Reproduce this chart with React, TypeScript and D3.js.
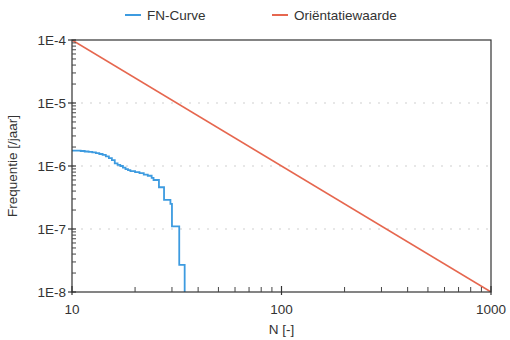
import { useEffect, useRef } from 'react'
import * as d3 from 'd3'

// FN-curve (step function, value holds until next N)
const fnN = [
  10, 11, 11.5, 12, 12.5, 13, 13.5, 14, 14.5, 15, 15.5, 16, 16.5, 17, 17.5, 18, 18.5, 19, 20, 21,
  22, 23, 24, 24.5, 26, 27.5, 29.5, 30, 32.5, 34.5,
]
const fnFreq = [
  1.75e-6, 1.73e-6, 1.7e-6, 1.67e-6, 1.64e-6, 1.6e-6, 1.55e-6, 1.5e-6, 1.42e-6, 1.33e-6, 1.24e-6,
  1.1e-6, 1.04e-6, 1.0e-6, 9.4e-7, 8.9e-7, 8.6e-7, 8.3e-7, 8.0e-7, 7.7e-7, 7.3e-7, 7.0e-7, 6.5e-7,
  6.0e-7, 4.6e-7, 2.9e-7, 2.5e-7, 1.1e-7, 2.7e-8, 1e-8,
]

// Oriëntatiewaarde line
const refN = [10, 1000]
const refFreq = [1e-4, 1e-8]

const yTicks = [1e-4, 1e-5, 1e-6, 1e-7, 1e-8]
const yTickLabels = ['1E-4', '1E-5', '1E-6', '1E-7', '1E-8']
const xTicks = [10, 100, 1000]
const seriesNames = ['FN-Curve', 'Oriëntatiewaarde']

export default function App() {
  const svgRef = useRef<SVGSVGElement>(null)

  useEffect(() => {
    if (!svgRef.current) return
    const svg = d3.select(svgRef.current)
    svg.selectAll('*').remove()

    const width = 510
    const height = 340
    const margin = { top: 40, right: 19, bottom: 48, left: 72 }
    const innerWidth = width - margin.left - margin.right
    const innerHeight = height - margin.top - margin.bottom
    const font = '"Liberation Sans", Arial, sans-serif'
    const textColor = '#333'
    const blue = '#3d9be0'
    const red = '#e6674f'

    svg.attr('width', width).attr('height', height)
    svg.append('rect').attr('width', width).attr('height', height).attr('fill', '#fff')

    const g = svg.append('g').attr('transform', `translate(${margin.left},${margin.top})`)

    const x = d3.scaleLog().domain([10, 1000]).range([0, innerWidth])
    const y = d3.scaleLog().domain([1e-8, 1e-4]).range([innerHeight, 0])

    // faint dotted grid
    yTicks.slice(1, -1).forEach(t => {
      g.append('line')
        .attr('x1', 0).attr('x2', innerWidth)
        .attr('y1', y(t)).attr('y2', y(t))
        .attr('stroke', '#cfcfcf')
        .attr('stroke-width', 1)
        .attr('stroke-dasharray', '2,7')
    })

    g.append('defs').append('clipPath').attr('id', 'plot')
      .append('rect').attr('width', innerWidth).attr('height', innerHeight)

    const line = d3.line<[number, number]>()
      .x(d => x(d[0]))
      .y(d => y(d[1]))

    g.append('path')
      .datum(refN.map((n, i) => [n, refFreq[i]] as [number, number]))
      .attr('d', line)
      .attr('fill', 'none')
      .attr('stroke', red)
      .attr('stroke-width', 1.6)
      .attr('clip-path', 'url(#plot)')

    const fnLine = d3.line<[number, number]>()
      .x(d => x(d[0]))
      .y(d => y(d[1]))
      .curve(d3.curveStepAfter)
    const fnPts = fnN.map((n, i) => [n, fnFreq[i]] as [number, number])
    fnPts.push([fnN[fnN.length - 1], 1e-8])

    g.append('path')
      .datum(fnPts)
      .attr('d', fnLine)
      .attr('fill', 'none')
      .attr('stroke', blue)
      .attr('stroke-width', 1.8)
      .attr('clip-path', 'url(#plot)')

    // frame
    g.append('rect')
      .attr('width', innerWidth).attr('height', innerHeight)
      .attr('fill', 'none')
      .attr('stroke', '#333')
      .attr('stroke-width', 1.2)

    // y ticks
    const yMinor: number[] = []
    for (let e = -8; e < -4; e++) for (let k = 2; k <= 9; k++) yMinor.push(k * Math.pow(10, e))
    yMinor.forEach(t => {
      g.append('line').attr('x1', 0).attr('x2', 4).attr('y1', y(t)).attr('y2', y(t))
        .attr('stroke', '#444').attr('stroke-width', 1)
    })
    yTicks.forEach((t, i) => {
      g.append('line').attr('x1', -4).attr('x2', 4).attr('y1', y(t)).attr('y2', y(t))
        .attr('stroke', '#333').attr('stroke-width', 1.2)
      g.append('text')
        .attr('x', -6).attr('y', y(t)).attr('dy', '0.35em')
        .attr('text-anchor', 'end')
        .style('font-family', font).style('font-size', '13.5px').style('fill', textColor)
        .text(yTickLabels[i])
    })

    // x ticks
    const xMinor: number[] = []
    for (let e = 1; e < 3; e++) for (let k = 2; k <= 9; k++) xMinor.push(k * Math.pow(10, e))
    xMinor.forEach(t => {
      g.append('line').attr('x1', x(t)).attr('x2', x(t)).attr('y1', innerHeight).attr('y2', innerHeight - 5)
        .attr('stroke', '#444').attr('stroke-width', 1)
    })
    xTicks.forEach(t => {
      g.append('line').attr('x1', x(t)).attr('x2', x(t)).attr('y1', innerHeight + 3).attr('y2', innerHeight - 6)
        .attr('stroke', '#333').attr('stroke-width', 1.2)
      g.append('text')
        .attr('x', x(t)).attr('y', innerHeight + 22)
        .attr('text-anchor', 'middle')
        .style('font-family', font).style('font-size', '13.5px').style('fill', textColor)
        .text(String(t))
    })

    // axis titles
    g.append('text')
      .attr('x', innerWidth / 2).attr('y', innerHeight + 42)
      .attr('text-anchor', 'middle')
      .style('font-family', font).style('font-size', '13.5px').style('fill', textColor)
      .text('N [-]')
    g.append('text')
      .attr('transform', 'rotate(-90)')
      .attr('x', -innerHeight / 2).attr('y', -55)
      .attr('text-anchor', 'middle')
      .style('font-family', font).style('font-size', '13.5px').style('fill', textColor)
      .text('Frequentie [/jaar]')

    // legend
    const legend = svg.append('g')
    const items = [
      { x: 125, color: blue },
      { x: 272, color: red },
    ]
    items.forEach((it, i) => {
      legend.append('line').attr('x1', it.x).attr('x2', it.x + 16).attr('y1', 15).attr('y2', 15)
        .attr('stroke', it.color).attr('stroke-width', 2)
      legend.append('text')
        .attr('x', it.x + 22).attr('y', 15).attr('dy', '0.35em')
        .style('font-family', font).style('font-size', '13.5px').style('fill', textColor)
        .text(seriesNames[i])
    })
  }, [])

  return (
    <svg ref={svgRef} style={{ position: 'absolute', left: 0, top: 0, display: 'block' }} />
  )
}
